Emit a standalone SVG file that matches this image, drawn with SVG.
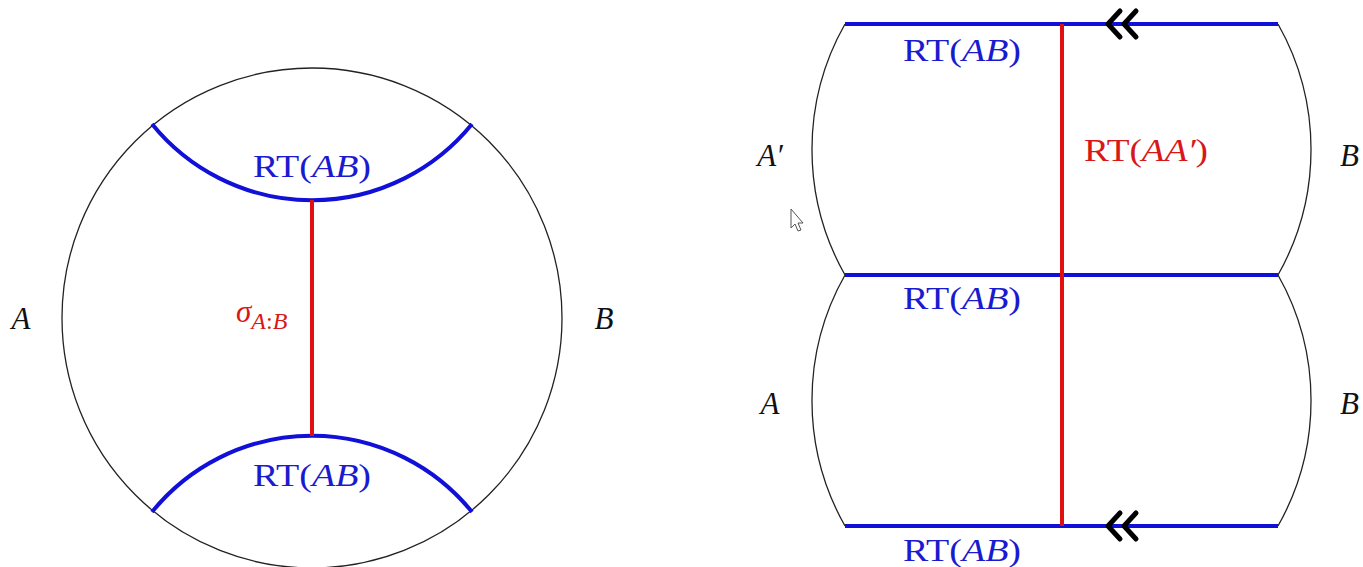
<svg xmlns="http://www.w3.org/2000/svg" width="1363" height="567" viewBox="0 0 1363 567">
<style>
.bd{fill:none;stroke:#222;stroke-width:1.3}
.rt{fill:none;stroke:#1010d8;stroke-width:4}
.red{fill:none;stroke:#e01010;stroke-width:4}
.chev{fill:none;stroke:#000;stroke-width:5;stroke-linecap:round;stroke-linejoin:round}
text{font-family:"Liberation Serif","DejaVu Serif",serif;font-size:31px}
.b{fill:#1a1ad0}
.r{fill:#d81818}
.k{fill:#111}
.i{font-style:italic}
</style>
<rect width="1363" height="567" fill="#fff"/>
<g id="left-disk">
<circle class="bd" cx="312" cy="318" r="250"/>
</g>
<g id="right-surface">
<path class="bd" d="M845,24 A255,255 0 0 0 845,275 A255,255 0 0 0 845,526"/>
<path class="bd" d="M1278,24 A255,255 0 0 1 1278,275 A255,255 0 0 1 1278,526"/>
</g>
<g id="connectors">
<path class="rt" d="M152,124 A206,206 0 0 0 472,124"/>
<path class="rt" d="M152,512 A206,206 0 0 1 472,512"/>
<line class="red" x1="312" y1="200" x2="312" y2="436"/>
<line class="rt" x1="845" y1="24" x2="1278" y2="24"/>
<line class="rt" x1="845" y1="275" x2="1278" y2="275"/>
<line class="rt" x1="845" y1="526" x2="1278" y2="526"/>
<line class="red" x1="1062" y1="24" x2="1062" y2="526"/>
<path class="chev" d="M1120,11 L1108,24 L1120,37 M1136,11 L1124,24 L1136,37"/>
<path class="chev" d="M1120,513 L1108,526 L1120,539 M1136,513 L1124,526 L1136,539"/>
</g>
<g id="labels-left">
<text class="b" x="312" y="177" text-anchor="middle" textLength="118" lengthAdjust="spacingAndGlyphs">RT(<tspan class="i">AB</tspan>)</text>
<text class="b" x="312" y="486" text-anchor="middle" textLength="118" lengthAdjust="spacingAndGlyphs">RT(<tspan class="i">AB</tspan>)</text>
<text class="r i" x="236" y="322" font-size="33">σ<tspan font-size="24" dy="7">A</tspan><tspan font-size="24" font-style="normal">:</tspan><tspan font-size="24">B</tspan></text>
<text class="k i" x="21" y="329" text-anchor="middle">A</text>
<text class="k i" x="604" y="329" text-anchor="middle">B</text>
</g>
<g id="labels-right">
<text class="b" x="962" y="61" text-anchor="middle" textLength="118" lengthAdjust="spacingAndGlyphs">RT(<tspan class="i">AB</tspan>)</text>
<text class="b" x="962" y="309" text-anchor="middle" textLength="118" lengthAdjust="spacingAndGlyphs">RT(<tspan class="i">AB</tspan>)</text>
<text class="b" x="962" y="561" text-anchor="middle" textLength="118" lengthAdjust="spacingAndGlyphs">RT(<tspan class="i">AB</tspan>)</text>
<text class="r" x="1146" y="161" text-anchor="middle" textLength="124" lengthAdjust="spacingAndGlyphs">RT(<tspan class="i">AA′</tspan>)</text>
<text class="k i" x="770" y="166" text-anchor="middle" font-size="33">A′</text>
<text class="k i" x="770" y="414" text-anchor="middle">A</text>
<text class="k i" x="1340" y="166">B</text>
<text class="k i" x="1340" y="414">B</text>
</g>
<g id="cursor">
<path d="M791,209 L791,228 L795,224 L798,231 L801,230 L798,223 L803,223 Z" fill="#fff" stroke="#555" stroke-width="1"/>
</g>
</svg>
